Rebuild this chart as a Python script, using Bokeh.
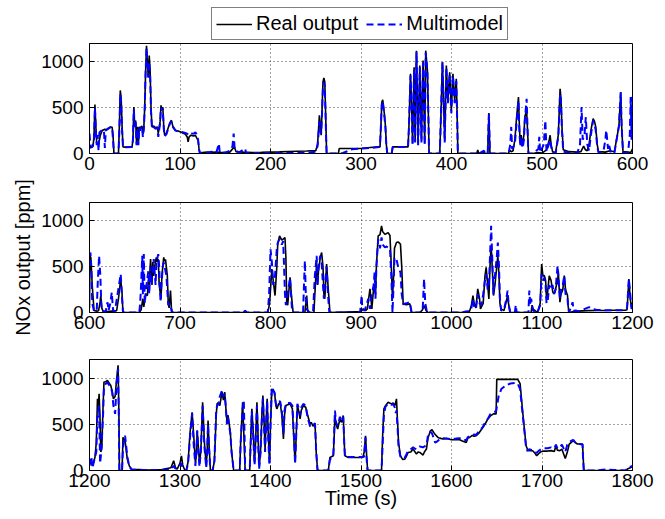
import math
from bokeh.plotting import figure
from bokeh.models import Range1d, FixedTicker, Legend, LegendItem, Label
from bokeh.layouts import column, row
from bokeh.embed import file_html
from bokeh.resources import INLINE

# ---------------- data (time [s], NOx [ppm]) ----------------
real_1 = [(0,60),(2,65),(4,80),(5,200),(6,535),(7,300),(8,110),(10,100),(12,200),(14,250),(17,265),(19,260),(21,270),(23,290),(25,285),(26,200),(27,0),(32,0),(33,300),(34,688),(35,600),(36,300),(37,72),(40,70),(47,72),(48,150),(49,507),(50,300),(51,360),(52,108),(53,290),(54,108),(55,290),(56,270),(57,290),(58,300),(59,210),(60,280),(61,500),(62,900),(63,1176),(64,1000),(65,830),(66,1068),(67,900),(68,500),(69,290),(71,300),(73,280),(75,290),(76,220),(77,280),(78,350),(79,525),(80,480),(81,507),(82,300),(83,200),(85,220),(87,280),(89,340),(90.5,362),(92,300),(95,253),(98,246),(102,230),(106,210),(108,180),(109,127),(110,180),(112,200),(115,190),(117,199),(119,160),(120,150),(121,50),(122,0),(125,10),(130,15),(135,12),(140,15),(145,10),(150,12),(155,15),(160,72),(162,20),(170,15),(180,10),(190,12),(200,15),(210,18),(220,22),(230,25),(240,28),(245,30),(250,30),(252,100),(253,250),(254,416),(255,300),(256,200),(257,500),(258,780),(259,825),(260,780),(261,400),(262,0),(275,0),(276,55),(290,55),(300,55),(310,65),(320,72),(321,72),(322,300),(323,560),(324,586),(325,500),(326,416),(327,300),(328,100),(329,0),(334,0),(335,72),(352,72),(353,300),(354.7,869),(356,500),(357,108),(358.7,941),(359.8,145),(361.3,1122),(362.5,500),(363.1,108),(365,959),(366.8,145),(368.6,1014),(370.4,108),(371.5,1122),(373.4,905),(374.5,400),(375.2,0),(387,0),(388,300),(390,996),(392.5,145),(394.3,959),(396,579),(398,887),(399.8,470),(401.6,869),(403.5,579),(405.3,815),(406.5,300),(407,0),(428,0),(429,40),(430,0),(436,20),(437,0),(440,0),(441.3,442),(442.5,0),(463,0),(464,36),(466,20),(468,30),(470,150),(472,400),(474,615),(475,300),(476,100),(477,200),(478,80),(480,200),(481,400),(483,470),(484.5,150),(485,0),(490,0),(495,10),(500,5),(505,40),(508,150),(509,199),(510,100),(511.7,20),(515,10),(518,200),(520,706),(521,600),(522,300),(523.5,40),(530,20),(539,15),(543,20),(546,80),(548,40),(550,30),(552,100),(554,250),(556.5,380),(558,350),(559.4,290),(561,100),(562.4,20),(570,15),(575,30),(580,20),(585,300),(587,659),(588,300),(589.5,20),(595,15),(598,10),(600,50)]

model_1 = [(0,217),(1,80),(3,70),(5,150),(6,500),(7,250),(8,90),(9,200),(10,30),(11,230),(13,250),(15,260),(16,240),(17,60),(18,250),(20,270),(22,280),(24,290),(25,280),(26,150),(27,0),(32,0),(33,250),(34,650),(35,550),(36,250),(37,72),(40,68),(47,70),(48,150),(49,480),(50,280),(51,340),(52,90),(53,280),(54,90),(55,280),(56,250),(57,280),(58,290),(59,180),(60,260),(61,480),(62,880),(63,1150),(64,950),(65,830),(66,1000),(67,850),(68,450),(69,270),(71,290),(73,270),(75,280),(76,180),(77,260),(78,330),(79,500),(80,470),(81,490),(82,280),(83,190),(85,210),(87,270),(89,330),(90.5,350),(92,290),(95,250),(98,240),(102,235),(106,225),(108,215),(110,200),(112,220),(115,215),(117,230),(119,200),(120,150),(121,50),(122,0),(125,15),(130,5),(135,20),(140,5),(143,108),(144,5),(150,10),(155,30),(158,80),(159.3,217),(160.5,40),(165,10),(172,54),(173,5),(180,5),(200,5),(220,5),(240,10),(250,20),(252,80),(253,200),(254,350),(255,250),(256,220),(257,450),(258,740),(259,778),(260,740),(261,350),(262,0),(275,0),(280,5),(290,45),(300,55),(310,60),(320,70),(321,90),(322,300),(323,540),(324,570),(325,480),(326,390),(327,280),(328,90),(329,0),(334,0),(335,70),(352,70),(353,300),(354.7,850),(356,480),(357,90),(358.7,920),(359.8,120),(361.3,1110),(362.5,480),(363.1,90),(365,940),(366.8,120),(368.6,990),(370.4,90),(371.5,1100),(373.4,880),(374.5,380),(375.2,0),(387,0),(388,300),(390,1000),(392.5,120),(394.3,940),(396,550),(398,870),(399.8,440),(401.6,850),(403.5,550),(405.3,790),(406.5,280),(407,0),(428,0),(429,15),(430,0),(436,30),(437,0),(440,0),(441.3,430),(442.5,0),(463,0),(465,100),(466,290),(467,50),(470,100),(472,350),(474,580),(475,250),(476,80),(477,180),(478.7,60),(480,150),(481,350),(483,597),(484.5,120),(485,0),(490,0),(496,50),(497,181),(498,10),(502,100),(503.7,362),(505,20),(509,150),(510,80),(511.7,10),(515,5),(518,180),(520,652),(521,560),(522,260),(523.5,20),(530,10),(539,5),(542,100),(543.7,507),(545,150),(547,200),(548.4,398),(550,100),(552,30),(554,200),(556.5,360),(558,320),(559.4,250),(561,80),(562.4,10),(568,30),(570,150),(571,253),(573,50),(574,100),(576,10),(580,5),(585,300),(587,670),(588,300),(589.5,10),(595,5),(597,200),(598,615),(599,150),(600,620)]

real_2 = [(600,50),(600.5,619),(601.5,600),(603,300),(605,22),(608,15),(610,20),(611.5,100),(612.5,185),(613.5,50),(615,15),(620,10),(625,15),(630,20),(632,150),(634.5,366),(636,200),(637,0),(655,0),(657,30),(659,150),(660,60),(662,200),(664,185),(665,350),(666,300),(667.5,583),(669,300),(670,550),(671,400),(672,500),(673.8,601),(675,550),(676,580),(677,300),(679,150),(680,400),(682,601),(683,560),(684,580),(686,400),(687,100),(688,50),(689.5,239),(690.5,50),(691.4,0),(797,0),(799,100),(801.5,474),(803,350),(805,185),(807,500),(808,750),(810,836),(812.5,790),(814,800),(816,818),(817,600),(818,100),(819,80),(820,200),(821.6,384),(823,200),(825,0),(838,0),(839,100),(840,185),(841,30),(843,0),(848,0),(849,200),(851,547),(852,300),(853,450),(855,600),(856.5,655),(858,500),(859,200),(860,150),(862,528),(863.5,300),(865.7,0),(900,10),(902.5,40),(905,20),(907,40),(909.9,257),(911,150),(912,40),(914.3,311),(916,200),(917,500),(919,836),(921,850),(922.7,945),(924,880),(926.4,854),(928,860),(930,872),(932,840),(933.5,500),(934.8,148),(936,400),(937,700),(939.2,764),(941,770),(943.6,746),(945,500),(946.6,94),(950,85),(954,94),(955.8,0),(965,0),(968,30),(969.7,76),(972,20),(974,0),(1012,0),(1015,5),(1020,15),(1022,80),(1023.7,185),(1025,100),(1027,50),(1029,257),(1031,150),(1032,40),(1035,100),(1037,400),(1038.3,492),(1040,300),(1041.3,148),(1042.5,500),(1043.8,728),(1045,500),(1046.4,185),(1048,300),(1050,500),(1051.2,619),(1052.5,400),(1053.5,100),(1054.8,40),(1058,20),(1060,100),(1062,185),(1063,100),(1064.8,0),(1070,0),(1088,0),(1089,80),(1090,40),(1095,0),(1098,100),(1099.6,528),(1101,400),(1102.6,402),(1104,350),(1105,150),(1106.2,220),(1108,400),(1110,350),(1112,220),(1114,210),(1116,300),(1117.2,329),(1118,450),(1119.8,112),(1121,200),(1123,250),(1124.6,402),(1126,250),(1128.2,185),(1129,60),(1130,0),(1135,10),(1140,15),(1150,20),(1160,22),(1170,22),(1180,25),(1189,25),(1192,25),(1194,30),(1196,366),(1197.5,150),(1199,50),(1200,105)]

model_2 = [(600,620),(601,655),(602,500),(603,100),(605,15),(608,20),(609,300),(610.6,619),(612,400),(613,100),(614,10),(618,10),(619,80),(620,112),(621,20),(623,100),(624.6,220),(626,30),(628,10),(631,200),(634.5,420),(636,150),(637,0),(655,0),(656,100),(657,300),(658.3,619),(659,200),(660,637),(661,100),(663,300),(665,450),(666,200),(667.5,500),(668,300),(670,450),(671,583),(673,300),(674,550),(676,637),(677,500),(678.5,112),(679.5,300),(681,500),(682,547),(683,500),(685,400),(687,80),(688.5,100),(690,50),(691,0),(770,0),(772,20),(774,0),(797,0),(798.5,200),(800,690),(801.5,550),(803,300),(805,400),(807,700),(808,760),(810,800),(812.5,740),(814,780),(815,500),(816,200),(817,80),(819,200),(821.6,380),(823,150),(824,0),(836,0),(837,300),(838,565),(839,200),(840,40),(842,0),(847,0),(848,200),(849,400),(851,619),(852,300),(853,500),(855,620),(856.5,547),(858,300),(859,150),(860,300),(862,500),(863.5,200),(865,0),(899,0),(900,100),(900.7,185),(901.5,40),(904,20),(906,80),(908,150),(910,40),(912,200),(914,300),(915,438),(916,150),(917,500),(919,800),(921,700),(922.7,820),(924,740),(926.4,710),(928,720),(930,710),(932,700),(933.5,400),(934.8,0),(936,300),(937,600),(939.2,580),(941,500),(943.6,438),(945,200),(946.6,90),(950,100),(954,112),(956,0),(968,0),(969.7,366),(971,100),(973,0),(1012,0),(1015,10),(1020,10),(1022,50),(1023.7,150),(1025,60),(1027,40),(1029,200),(1031,100),(1033,80),(1035,200),(1037,350),(1038.3,420),(1040,250),(1041.3,300),(1042.5,600),(1043.8,945),(1045,600),(1046.4,200),(1048,400),(1050,600),(1051.2,764),(1052.5,500),(1053.5,150),(1054.8,20),(1058,30),(1060,120),(1062,239),(1063,100),(1064.8,0),(1070,0),(1071,80),(1072,0),(1085,0),(1086,239),(1087,80),(1088,150),(1089,80),(1090,20),(1095,0),(1098,80),(1099.6,420),(1101,350),(1102.6,380),(1104,300),(1105,100),(1106.2,112),(1108,300),(1110,250),(1111.7,300),(1113,200),(1115,250),(1117.2,510),(1118,400),(1119.8,150),(1121,250),(1123,300),(1124.6,402),(1126,200),(1128.2,150),(1129,40),(1130,0),(1133.8,112),(1135,20),(1137.4,22),(1140,10),(1145,30),(1152,58),(1155,40),(1160,30),(1170,25),(1180,25),(1189,25),(1194,50),(1196,366),(1197.5,200),(1199,40),(1200,50)]

real_3 = [(1200,105),(1203.3,51),(1206,141),(1207.5,300),(1208.8,775),(1209.8,700),(1210.6,829),(1211.5,600),(1212.5,200),(1213.6,250),(1215,700),(1216,956),(1218,960),(1219.8,974),(1222,940),(1223.5,919),(1225,860),(1226.4,775),(1228.3,800),(1230,992),(1231.6,1137),(1232.5,600),(1233,0),(1236,0),(1237,358),(1239.3,320),(1241.8,123),(1244,50),(1246.6,14),(1255,10),(1265,5),(1280,10),(1290,30),(1293,105),(1295,30),(1296.9,15),(1300,80),(1301.6,159),(1303,60),(1305,10),(1307,0),(1309,100),(1311,400),(1313.4,630),(1315,400),(1317,87),(1318,150),(1319,431),(1320,300),(1321.5,87),(1323,200),(1325,738),(1327,300),(1329,50),(1330,200),(1331,539),(1332,300),(1333.6,0),(1336,0),(1338,100),(1340,600),(1341,720),(1342.8,738),(1344,700),(1346.4,850),(1348,760),(1349.4,847),(1350.5,700),(1351.9,521),(1353,600),(1355.6,412),(1357,200),(1359.3,0),(1366,0),(1367,300),(1369.2,738),(1370.5,400),(1372,0),(1377,0),(1378,300),(1379.4,666),(1381,400),(1382.4,87),(1383.5,300),(1385,738),(1386.5,300),(1387.5,40),(1389,200),(1390.5,600),(1391.6,811),(1393,500),(1394,232),(1395,500),(1396.3,775),(1397.5,400),(1398.9,87),(1400,500),(1401.5,883),(1403,860),(1404.4,847),(1406,700),(1407,666),(1409,720),(1410.6,738),(1412.5,600),(1414.3,340),(1415.5,600),(1416.9,702),(1419,710),(1421.7,720),(1424.2,666),(1426,300),(1427.2,87),(1428.5,400),(1429.7,702),(1431,650),(1432.7,557),(1434,650),(1436.3,700),(1438.9,684),(1441,600),(1443.7,503),(1445,520),(1447,480),(1449.2,503),(1450.5,200),(1452,0),(1463.9,0),(1465.7,141),(1469.4,159),(1470.5,400),(1471.2,594),(1472.5,500),(1474.2,449),(1476.7,557),(1478.5,520),(1480.4,594),(1481.5,300),(1482.2,159),(1486,141),(1495,141),(1502,141),(1503.5,200),(1505,376),(1506,200),(1507.3,0),(1522.7,0),(1524,400),(1525.3,666),(1527,700),(1530,738),(1533.7,720),(1535.5,730),(1537.4,702),(1538.5,740),(1539.2,775),(1540.5,500),(1541.5,300),(1543.6,159),(1546,120),(1548.4,123),(1550,150),(1552,195),(1555,200),(1557.6,232),(1559,210),(1561.3,177),(1563,200),(1565,195),(1568.6,167),(1570,200),(1572.3,232),(1574,350),(1576.7,431),(1578.5,440),(1580.3,412),(1582,390),(1585,358),(1587,350),(1590.6,340),(1595,345),(1599.8,333),(1605,335),(1609,333),(1612,320),(1616.3,304),(1618,350),(1620,358),(1623,380),(1625,370),(1627.3,376),(1630,400),(1634.7,467),(1637,500),(1640.2,557),(1643,590),(1646.4,612),(1649.3,612),(1650,985),(1660,985),(1670,985),(1673.2,985),(1675.8,938),(1678.7,630),(1682.4,268),(1684,230),(1686,214),(1689.7,214),(1692,190),(1694.1,159),(1696,180),(1698.9,203),(1702,210),(1706.2,210),(1710,215),(1713.6,206),(1715.4,268),(1717,220),(1719.8,214),(1722,230),(1725.7,130),(1728,200),(1730.1,286),(1732,300),(1734.5,322),(1737,300),(1739.2,286),(1744.8,286),(1745.5,150),(1746.2,0),(1792.5,0),(1795,20),(1800,40)]

model_3 = [(1200,50),(1202,150),(1203.3,30),(1205,100),(1206,141),(1207.5,200),(1208.8,600),(1210.6,700),(1211.7,76),(1213,200),(1215,600),(1216,900),(1218,940),(1219.8,950),(1222,920),(1223.5,900),(1225,850),(1226.4,700),(1228.3,612),(1230,950),(1231.6,1100),(1232.5,500),(1233,0),(1236,0),(1237,250),(1239.3,376),(1241.8,150),(1244,40),(1246.6,10),(1255,5),(1265,3),(1280,5),(1290,10),(1293,50),(1295,20),(1298,40),(1301.6,80),(1303,20),(1307,0),(1309,80),(1311,350),(1313.4,620),(1315,300),(1317,50),(1318,200),(1319,431),(1320,250),(1321.5,40),(1323,200),(1325,700),(1327,250),(1329,30),(1330,200),(1331,500),(1332,250),(1333.6,0),(1336,0),(1338,100),(1340,650),(1341,700),(1342.8,720),(1344,800),(1346.4,865),(1348,800),(1349.4,830),(1350.5,700),(1351.9,500),(1353,580),(1355.6,400),(1357,200),(1359.3,0),(1366,0),(1367,300),(1369.2,666),(1370.5,760),(1371.5,300),(1372,0),(1377,0),(1378,250),(1379.4,640),(1381,350),(1382.4,60),(1383.5,300),(1385,700),(1386.5,250),(1387.5,20),(1389,200),(1390.5,580),(1391.6,780),(1393,450),(1394,200),(1395,450),(1396.3,750),(1397.5,350),(1398.9,60),(1400,480),(1401.5,900),(1403,870),(1404.4,840),(1406,720),(1407,700),(1409,740),(1410.6,750),(1412.5,650),(1414.3,400),(1415.5,650),(1416.9,720),(1419,730),(1421.7,730),(1424.2,700),(1426,350),(1427.2,70),(1428.5,400),(1429.7,720),(1431,680),(1432.7,600),(1434,680),(1436.3,720),(1438.9,700),(1441,570),(1443.7,480),(1445,470),(1447,490),(1449.2,510),(1450.5,200),(1452,0),(1463.9,0),(1465.7,120),(1469.4,150),(1470.5,450),(1471.2,648),(1472.5,520),(1474.2,480),(1476.7,580),(1478.5,540),(1480.4,580),(1481.5,300),(1482.2,150),(1486,145),(1495,145),(1502,145),(1503.5,150),(1505,360),(1506,150),(1507.3,0),(1522.7,0),(1524,300),(1525.3,600),(1527,690),(1530,720),(1533.7,710),(1535.5,720),(1537.4,680),(1538.5,620),(1539.2,650),(1540.5,450),(1541.5,250),(1543.6,150),(1546,130),(1548.4,140),(1550,170),(1552,210),(1555,230),(1557.6,250),(1559,240),(1561.3,230),(1563,250),(1565,260),(1568.6,250),(1570,260),(1572.3,270),(1574,380),(1576.7,420),(1578.5,400),(1580.3,350),(1582,300),(1585,320),(1587,340),(1590.6,350),(1595,345),(1599.8,340),(1605,345),(1609,350),(1612,330),(1616.3,330),(1618,360),(1620,370),(1623,380),(1625,390),(1627.3,385),(1630,420),(1634.7,470),(1637,520),(1640.2,560),(1643,610),(1646.4,630),(1649.3,640),(1652,800),(1655,880),(1660,920),(1665,940),(1670,945),(1673.2,940),(1675.8,880),(1678.7,600),(1682.4,250),(1684,210),(1686,230),(1689.7,215),(1692,200),(1694.1,190),(1696,210),(1698.9,230),(1702,240),(1706.2,240),(1710,250),(1713.6,240),(1715.4,280),(1717,240),(1719.8,250),(1722,280),(1725.7,200),(1728,280),(1730.1,300),(1732,320),(1734.5,330),(1737,300),(1739.2,290),(1744.8,280),(1745.5,100),(1746.2,0),(1760,0),(1770,10),(1780,5),(1792.5,0),(1795,30),(1800,50)]

panel_ranges = [(0, 600), (600, 1200), (1200, 1800)]
y_ticks = [0, 500, 1000]
legend_labels = ["Real output", "Multimodel"]
x_label = "Time (s)"
y_label = "NOx output [ppm]"

FONT = "Liberation Sans"
LABEL_W = 38
TOTAL_H = 516
BLACK_W = 1.6
BLUE_W = 2
BLUE_DASH = "7 4"


def xs(pairs):
    return [a for a, b in pairs]


def ys(pairs):
    return [b for a, b in pairs]


def make_panel(real, model, xr, height, top, bottom, xlabel=None):
    p = figure(width=665 - LABEL_W, height=height, x_range=Range1d(*xr), y_range=Range1d(0, 1200),
               output_backend="svg", toolbar_location=None,
               min_border_left=87 - LABEL_W, min_border_right=33,
               min_border_top=top, min_border_bottom=bottom)
    p.background_fill_color = "white"
    p.border_fill_color = "white"
    p.outline_line_color = "black"
    p.outline_line_width = 1
    p.xaxis.ticker = FixedTicker(ticks=list(range(xr[0], xr[1] + 1, 100)))
    p.yaxis.ticker = FixedTicker(ticks=y_ticks)
    for ax in (p.xaxis, p.yaxis):
        ax.major_tick_in = 5
        ax.major_tick_out = 0
        ax.minor_tick_line_color = None
        ax.axis_line_color = "black"
        ax.major_tick_line_color = "black"
        ax.major_label_text_font = FONT
        ax.major_label_text_font_size = "19px"
        ax.major_label_text_color = "black"
        ax.axis_label_text_font = FONT
        ax.axis_label_text_font_size = "20px"
        ax.axis_label_text_font_style = "normal"
        ax.axis_label_text_color = "black"
    p.xaxis.major_label_standoff = 3
    p.yaxis.major_label_standoff = 6
    if xlabel:
        p.xaxis.axis_label = xlabel
        p.xaxis.axis_label_standoff = -3
    p.grid.grid_line_color = "#444444"
    p.grid.grid_line_dash = "1 3"
    p.grid.grid_line_width = 1
    p.line(xs(real), ys(real), line_color="black", line_width=BLACK_W)
    p.line(xs(model), ys(model), line_color="#0000FF", line_width=BLUE_W, line_dash=BLUE_DASH)
    return p


# legend strip above the first panel (its lines lie outside its view; only the legend shows)
leg_fig = figure(width=665 - LABEL_W, height=42, x_range=Range1d(-2, -1), y_range=Range1d(0, 1),
                 output_backend="svg", toolbar_location=None,
                 min_border_left=87 - LABEL_W, min_border_right=33, min_border_top=0, min_border_bottom=0,
                 x_axis_location=None, y_axis_location=None)
leg_fig.grid.visible = False
leg_fig.outline_line_color = None
leg_fig.background_fill_color = "white"
leg_fig.border_fill_color = "white"
lr = leg_fig.line(xs(real_1), ys(real_1), line_color="black", line_width=BLACK_W)
lm = leg_fig.line(xs(model_1), ys(model_1), line_color="#0000FF", line_width=BLUE_W, line_dash=BLUE_DASH)
legend = Legend(items=[LegendItem(label=legend_labels[0], renderers=[lr]),
                       LegendItem(label=legend_labels[1], renderers=[lm])],
                orientation="horizontal", location=(122, 2))
legend.label_text_font = FONT
legend.label_text_font_size = "20px"
legend.label_text_color = "black"
legend.padding = 4
legend.spacing = 8
legend.glyph_width = 36
legend.glyph_height = 18
legend.label_height = 18
legend.label_standoff = 4
legend.margin = 0
legend.border_line_color = "black"
legend.border_line_width = 1
legend.background_fill_color = "white"
legend.background_fill_alpha = 1
leg_fig.add_layout(legend)

p1 = make_panel(real_1, model_1, panel_ranges[0], 151, 1, 40)
p2 = make_panel(real_2, model_2, panel_ranges[1], 157, 9, 38)
p3 = make_panel(real_3, model_3, panel_ranges[2], 166, 9, 46, xlabel=x_label)

# shared y-axis label, drawn in a narrow strip to the left of the three panels
lab = figure(width=LABEL_W, height=TOTAL_H, x_range=Range1d(0, LABEL_W), y_range=Range1d(0, TOTAL_H),
             output_backend="svg", toolbar_location=None, min_border=0,
             x_axis_location=None, y_axis_location=None)
lab.grid.visible = False
lab.outline_line_color = None
lab.background_fill_color = "white"
lab.border_fill_color = "white"
lab.add_layout(Label(x=22, y=TOTAL_H - 257, text=y_label, angle=math.pi / 2,
                     text_align="center", text_baseline="middle",
                     text_font=FONT, text_font_size="20px", text_color="black"))

layout = row(lab, column(leg_fig, p1, p2, p3, spacing=0), spacing=0)
open("out.html", "w").write(file_html(layout, INLINE))
